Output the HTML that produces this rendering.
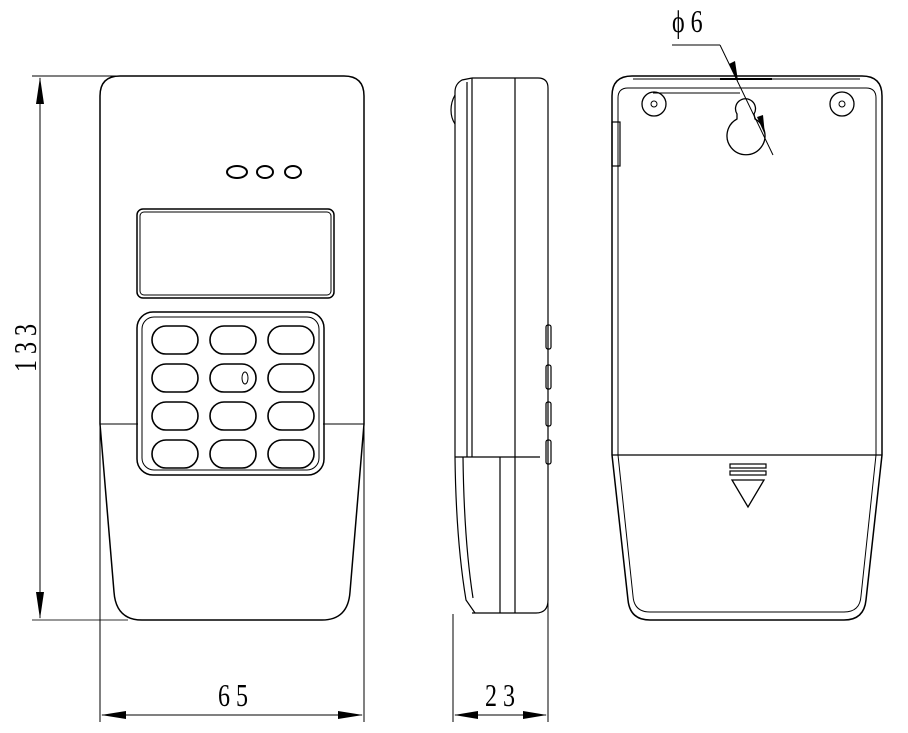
<!DOCTYPE html>
<html><head><meta charset="utf-8"><style>
html,body{margin:0;padding:0;background:#fff;width:908px;height:733px;overflow:hidden}
svg{display:block}
text{font-family:"Liberation Serif",serif;fill:#000}
</style></head><body>
<svg width="908" height="733" viewBox="0 0 908 733" xmlns="http://www.w3.org/2000/svg" fill="none" stroke="#000" stroke-width="1.5">
<!-- FRONT VIEW -->
<path d="M100,424 L100,96 Q100,76 120,76 L344,76 Q364,76 364,96 L364,424 L350,592 Q348,620 322,620 L142,620 Q116,620 114,592 Z"/>
<line x1="100" y1="424" x2="138" y2="424" stroke-width="1"/>
<line x1="323" y1="424" x2="364" y2="424" stroke-width="1"/>
<ellipse cx="237" cy="172" rx="10" ry="6" stroke-width="2"/>
<ellipse cx="265" cy="172" rx="8" ry="6" stroke-width="2"/>
<ellipse cx="293" cy="172" rx="8" ry="6" stroke-width="2"/>
<rect x="137" y="209" width="197" height="89" rx="6"/>
<rect x="140" y="212" width="191" height="83" rx="4" stroke-width="1"/>
<rect x="137" y="312" width="187" height="163" rx="16"/>
<rect x="142" y="317" width="177" height="153" rx="12" stroke-width="1"/>
<g stroke-width="1.6">
<rect x="152" y="326" width="46" height="28" rx="14"/><rect x="210" y="326" width="46" height="28" rx="14"/><rect x="268" y="326" width="46" height="28" rx="14"/>
<rect x="152" y="364" width="46" height="28" rx="14"/><rect x="210" y="364" width="46" height="28" rx="14"/><rect x="268" y="364" width="46" height="28" rx="14"/>
<rect x="152" y="402" width="46" height="28" rx="14"/><rect x="210" y="402" width="46" height="28" rx="14"/><rect x="268" y="402" width="46" height="28" rx="14"/>
<rect x="152" y="440" width="46" height="28" rx="14"/><rect x="210" y="440" width="46" height="28" rx="14"/><rect x="268" y="440" width="46" height="28" rx="14"/>
</g>
<ellipse cx="245" cy="378" rx="3" ry="6" stroke-width="1"/>
<!-- dims -->
<g stroke-width="1">
<line x1="32" y1="76" x2="118" y2="76"/>
<line x1="32" y1="620" x2="128" y2="620" stroke="#777" stroke-width="1.5"/>
<line x1="40" y1="78" x2="40" y2="618"/>
<line x1="100" y1="424" x2="100" y2="722"/>
<line x1="364" y1="424" x2="364" y2="722"/>
<line x1="102" y1="715" x2="362" y2="715"/>
<line x1="453" y1="614" x2="453" y2="722"/>
<line x1="548" y1="600" x2="548" y2="722"/>
<line x1="455" y1="715" x2="546" y2="715"/>
</g>
<g fill="#000" stroke="none">
<polygon points="40,77 36,104 44,104"/>
<polygon points="40,619 36,592 44,592"/>
<polygon points="101,715 126,711 126,719"/>
<polygon points="363,715 338,711 338,719"/>
<polygon points="454,715 478,711 478,719"/>
<polygon points="547,715 523,711 523,719"/>
</g>
<text x="0" y="0" font-size="32" transform="translate(36,348) rotate(-90) scale(0.75,1)" text-anchor="middle" stroke="none">1 3 3</text>
<text x="0" y="0" font-size="32" transform="translate(233,706) scale(0.75,1)" text-anchor="middle" stroke="none">6 5</text>
<text x="0" y="0" font-size="32" transform="translate(500,706) scale(0.75,1)" text-anchor="middle" stroke="none">2 3</text>
<!-- SIDE VIEW -->
<g stroke-width="1.2">
<path d="M472,78 L538,78 Q548,78 548,88 L548,600 Q548,613 536,613 L472,613"/>
<path d="M472,78 L462,80 Q455,84 455,92 L455,457 Q456,540 466,600 L475,613"/>
<line x1="472" y1="78" x2="472" y2="457"/>
<line x1="467" y1="82" x2="467" y2="457"/>
<line x1="515" y1="78" x2="515" y2="613"/>
<line x1="455" y1="457" x2="540" y2="457"/>
<line x1="500" y1="457" x2="500" y2="613"/>
<path d="M463,457 Q464,540 473,598"/>
<path d="M455,95 Q451,102 451,110 Q451,118 455,124"/>
<rect x="546" y="325" width="5" height="24" rx="2"/>
<rect x="546" y="365" width="5" height="24" rx="2"/>
<rect x="546" y="402" width="5" height="24" rx="2"/>
<rect x="546" y="440" width="5" height="24" rx="2"/>
</g>
<!-- BACK VIEW -->
<path d="M612,455 L612,96 Q612,76 632,76 L862,76 Q882,76 882,96 L882,455 L866,600 Q864,620 844,620 L650,620 Q630,620 628,600 Z"/>
<path d="M618,455 L618,98 Q618,88 628,88 L866,88 Q876,88 876,98 L876,455 L861,596 Q860,612 844,612 L650,612 Q634,612 633,596 Z" stroke-width="1"/>
<line x1="633" y1="79" x2="860" y2="79" stroke-width="1"/>
<line x1="720" y1="79" x2="772" y2="79" stroke-width="2"/>
<line x1="612" y1="455" x2="882" y2="455" stroke-width="1.2"/>
<circle cx="654" cy="104" r="12" stroke-width="1.3"/><circle cx="654" cy="104" r="3" stroke-width="1"/>
<circle cx="842" cy="104" r="12" stroke-width="1.3"/><circle cx="842" cy="104" r="3" stroke-width="1"/>
<path d="M737,114 A10,10 0 1 1 754,114 L755,119 A19,19 0 1 1 737,119 Z" stroke-width="1.3"/>
<rect x="612" y="122" width="8" height="44" stroke-width="1.2"/>
<rect x="730" y="464" width="36" height="4" stroke-width="1.2"/>
<rect x="730" y="471" width="36" height="4" stroke-width="1.2"/>
<path d="M732,480 L764,480 L748,507 Z" stroke-width="1.3"/>
<g stroke-width="1">
<line x1="672" y1="45" x2="720" y2="45"/>
<line x1="720" y1="45" x2="773" y2="155"/>
<line x1="653" y1="93" x2="740" y2="93"/>
</g>
<g fill="#000" stroke="none">
<polygon points="738,81 729,64 735,61"/>
<polygon points="765,135 757,117 763,115"/>
</g>
<text x="0" y="0" font-size="32" transform="translate(672,32) scale(0.75,1)" stroke="none">ϕ 6</text>
</svg>
</body></html>
